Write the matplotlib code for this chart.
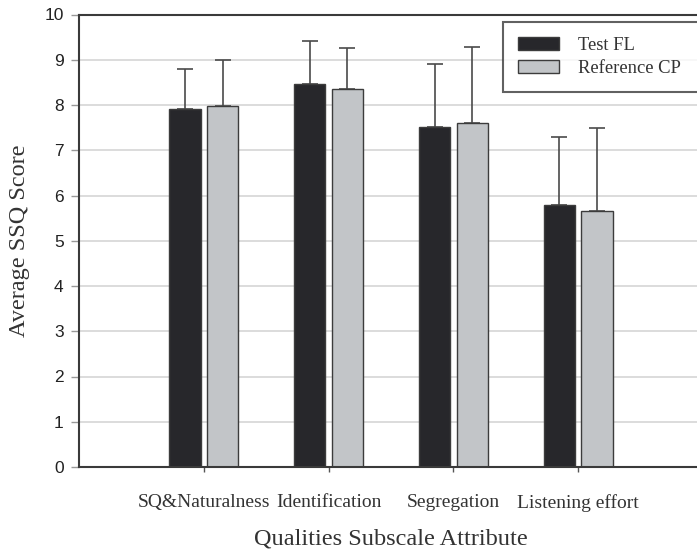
import matplotlib
matplotlib.use("Agg")
import matplotlib.pyplot as plt
import numpy as np

categories = ["SQ&Naturalness", "Identification", "Segregation", "Listening effort"]
test_fl = [7.92, 8.46, 7.52, 5.78]
test_fl_err = [0.87, 0.95, 1.38, 1.52]
ref_cp = [7.98, 8.35, 7.60, 5.66]
ref_cp_err = [1.01, 0.90, 1.69, 1.83]
series_names = ["Test FL", "Reference CP"]
yticks = [0, 1, 2, 3, 4, 5, 6, 7, 8, 9, 10]

serif = ["Liberation Serif", "DejaVu Serif"]
sans = ["Liberation Sans", "DejaVu Sans"]

fig = plt.figure(figsize=(6.97, 5.49), dpi=100)
ax = fig.add_axes([79/697, (549-467)/549, (703-79)/697, (467-14.5)/549])

x = np.arange(len(categories))
w = 0.25
off = 0.15
dark = "#27272b"
light = "#c2c5c8"
edge = "#3c3c3c"
errc = "#4a4a4a"

ax.set_axisbelow(True)
ax.yaxis.grid(True, color="#d6d6d6", lw=1.2)

b1 = ax.bar(x - off, test_fl, w, color=dark, edgecolor=edge, lw=1.0, label=series_names[0], zorder=2)
b2 = ax.bar(x + off, ref_cp, w, color=light, edgecolor=edge, lw=1.0, label=series_names[1], zorder=2)
ax.errorbar(x - off, test_fl, yerr=[np.zeros(4), test_fl_err], fmt="none", ecolor=errc,
            elinewidth=1.2, capsize=5.5, capthick=1.2, zorder=1)
ax.errorbar(x + off, ref_cp, yerr=[np.zeros(4), ref_cp_err], fmt="none", ecolor=errc,
            elinewidth=1.2, capsize=5.5, capthick=1.2, zorder=1)

ax.set_xlim(-1, 4)
ax.set_ylim(0, 10)
ax.set_yticks(yticks)
ax.set_xticks(x)
ax.set_xticklabels(categories, fontfamily=serif, fontsize=14, color="#333333")
for lab in ax.get_yticklabels():
    lab.set_fontfamily(sans)
    lab.set_fontsize(12.5)
    lab.set_color("#222222")
ax.tick_params(axis="y", length=6, width=1, color="#999999", pad=5)
ax.tick_params(axis="x", length=3.5, width=1, color="#555555", pad=16)

for s in ["left", "top", "bottom", "right"]:
    ax.spines[s].set_color("#3a3a3a")
    ax.spines[s].set_linewidth(1.5)

ax.set_ylabel("Average SSQ Score", fontfamily=serif, fontsize=17.5, color="#333333", labelpad=10)
ax.set_xlabel("Qualities Subscale Attribute", fontfamily=serif, fontsize=17.5, color="#333333", labelpad=12)

leg = ax.legend(loc="upper left", bbox_to_anchor=(503/697, 1 - 94/549, 215/697, 72/549),
                bbox_transform=fig.transFigure, mode="expand",
                prop={"family": serif, "size": 13.4}, frameon=True, fancybox=False,
                handlelength=2.2, handleheight=0.7, handletextpad=1.05, borderpad=0.8,
                labelspacing=0.33, borderaxespad=0)
leg.get_frame().set_edgecolor("#3a3a3a")
leg.get_frame().set_linewidth(1.5)
for t in leg.get_texts():
    t.set_color("#333333")

fig.savefig("out.png", dpi=100)
